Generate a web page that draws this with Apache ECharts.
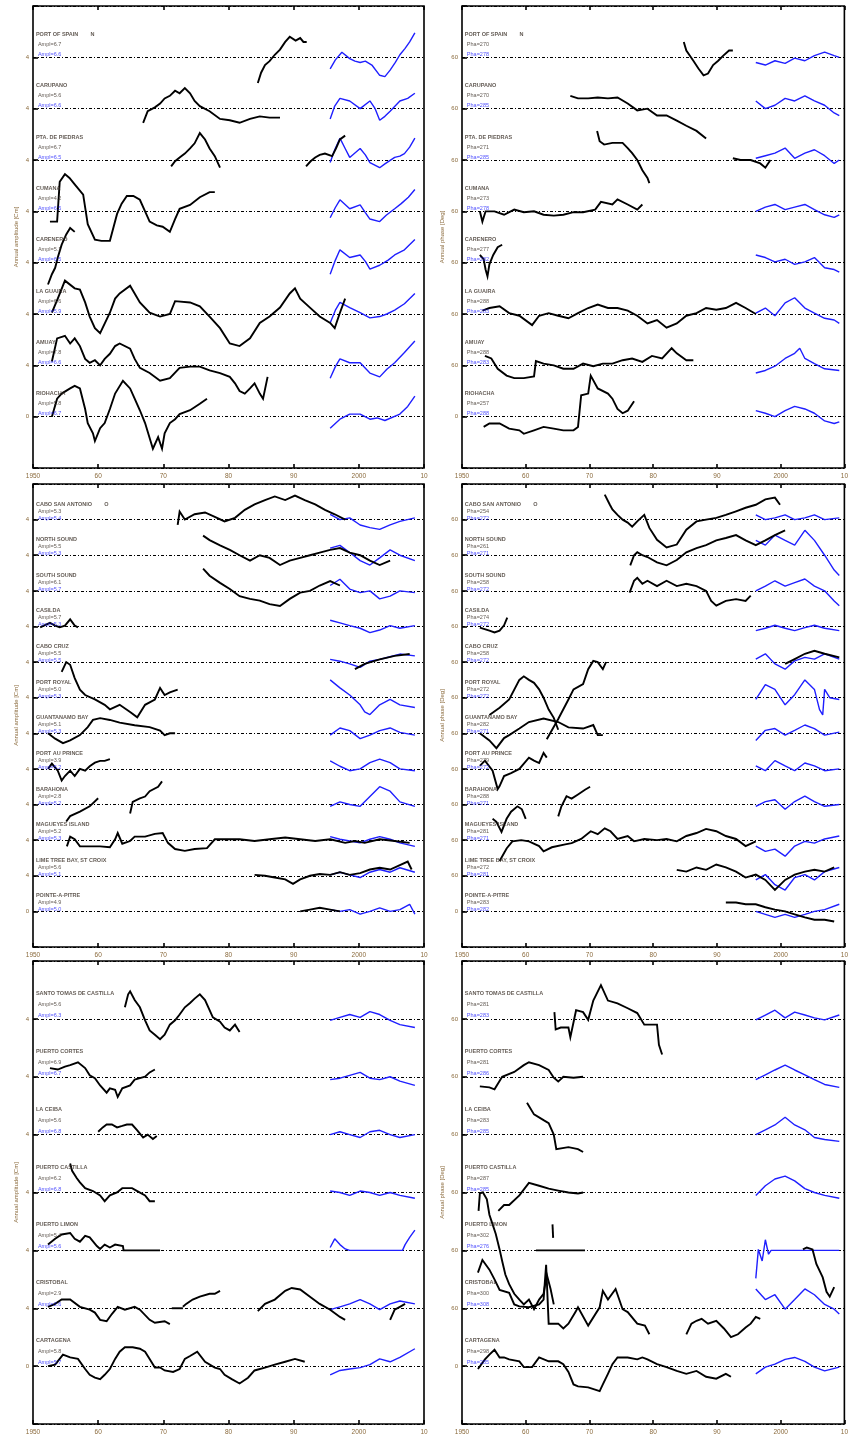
<!DOCTYPE html>
<html>
<head>
<meta charset="utf-8">
<script src="https://cdn.jsdelivr.net/npm/echarts/dist/echarts.min.js"></script>
<style>
  html, body { margin: 0; padding: 0; background: #ffffff; }
  #chart { width: 851px; height: 1440px; }
</style>
</head>
<body>
<div id="chart"></div>
<script>
// ---------- Station names and summary values (per panel row) ----------
const eastNames = ['PORT OF SPAIN', 'CARUPANO', 'PTA. DE PIEDRAS', 'CUMANA', 'CARENERO', 'LA GUAIRA', 'AMUAY', 'RIOHACHA'];
const eastAmpTG = ['6.7', '5.6', '6.7', '4.2', '5.1', '6.6', '7.8', '5.8'];
const eastAmpAlt = ['6.6', '6.6', '6.5', '6.5', '6.5', '5.9', '6.6', '6.7'];
const eastPhaTG = ['270', '270', '271', '273', '277', '288', '288', '257'];
const eastPhaAlt = ['278', '285', '285', '278', '282', '283', '283', '288'];

const centralNames = ['CABO SAN ANTONIO', 'NORTH SOUND', 'SOUTH SOUND', 'CASILDA', 'CABO CRUZ', 'PORT ROYAL', 'GUANTANAMO BAY', 'PORT AU PRINCE', 'BARAHONA', 'MAGUEYES ISLAND', 'LIME TREE BAY, ST CROIX', 'POINTE-A-PITRE'];
const centralAmpTG = ['5.3', '5.5', '6.1', '5.7', '5.5', '5.0', '5.1', '3.9', '2.8', '5.2', '5.6', '4.9'];
const centralAmpAlt = ['5.4', '5.3', '5.7', '5.3', '5.5', '5.3', '5.3', '5.2', '5.2', '5.3', '5.1', '5.0'];
const centralPhaTG = ['254', '261', '258', '274', '258', '272', '282', '279', '288', '281', '272', '283'];
const centralPhaAlt = ['272', '271', '272', '272', '272', '272', '271', '272', '271', '271', '281', '282'];

const westNames = ['SANTO TOMAS DE CASTILLA', 'PUERTO CORTES', 'LA CEIBA', 'PUERTO CASTILLA', 'PUERTO LIMON', 'CRISTOBAL', 'CARTAGENA'];
const westAmpTG = ['5.6', '6.9', '5.6', '6.2', '5.4', '2.9', '5.8'];
const westAmpAlt = ['6.3', '6.7', '6.8', '6.8', '5.6', '2.6', '5.7'];
const westPhaTG = ['281', '281', '283', '287', '302', '300', '298'];
const westPhaAlt = ['283', '286', '285', '285', '276', '308', '285'];

// ---------- Axis tick years ----------
const yearTicks = [1950, 1960, 1970, 1980, 1990, 2000, 2010];
const yearTickText = ['1950', '60', '70', '80', '90', '2000', '10'];

// ---------- Annual amplitude anomalies [cm]: tide gauge (TG) and altimetry (Alt) ----------
const ampPortOfSpainTG = [[1984.5,-2.0],[1985.0,-1.2],[1985.6,-0.6],[1986.3,-0.3],[1987.1,0.2],[1987.9,0.6],[1988.7,1.2],[1989.4,1.6],[1990.3,1.3],[1991.0,1.5],[1991.5,1.2],[1992.0,1.2]];
const ampPortOfSpainAlt = [[1995.6,-0.9],[1996.4,-0.2],[1997.4,0.4],[1998.6,-0.1],[1999.4,-0.3],[2000.2,-0.4],[2001.0,-0.3],[2002.0,-0.6],[2003.2,-1.4],[2004.0,-1.5],[2004.8,-1.0],[2005.6,-0.4],[2006.3,0.2],[2007.1,0.7],[2007.8,1.2],[2008.6,1.9]];
const ampCarupanoTG = [[1966.9,-1.1],[1967.6,-0.2],[1968.7,0.1],[1969.5,0.4],[1970.2,0.8],[1971.0,1.0],[1971.8,1.4],[1972.5,1.2],[1973.3,1.6],[1974.1,1.2],[1974.8,0.6],[1975.6,0.2],[1977.1,-0.2],[1978.7,-0.8],[1980.2,-0.9],[1981.7,-1.1],[1983.3,-0.8],[1984.8,-0.6],[1986.3,-0.7],[1987.9,-0.7]];
const ampCarupanoAlt = [[1995.6,-0.8],[1996.3,0.2],[1997.1,0.8],[1998.6,0.6],[2000.2,0.0],[2001.7,0.6],[2002.5,0.0],[2003.2,-0.9],[2004.0,-0.6],[2004.8,-0.2],[2006.3,0.6],[2007.5,0.8],[2008.6,1.2]];
const ampPiedrasTG = [[1971.2,-0.5],[1971.8,-0.1],[1972.5,0.2],[1973.3,0.5],[1974.1,0.9],[1974.8,1.3],[1975.6,2.1],[1976.4,1.6],[1977.1,0.9],[1977.9,0.3],[1978.7,-0.6],null,[1991.9,-0.5],[1992.6,-0.1],[1993.3,0.2],[1994.0,0.4],[1994.8,0.5],[1995.9,0.3],[1996.5,0.9],[1997.1,1.6],[1997.9,1.9]];
const ampPiedrasAlt = [[1995.6,-0.2],[1996.3,0.8],[1997.1,1.7],[1997.9,0.9],[1998.6,0.2],[2000.2,0.9],[2001.0,0.4],[2001.7,-0.2],[2003.2,-0.6],[2004.0,-0.3],[2005.5,0.2],[2006.3,0.3],[2007.0,0.5],[2007.8,1.0],[2008.6,1.7]];
const ampCumanaTG = [[1952.6,-0.8],[1953.7,-0.8],[1954.1,2.3],[1954.9,2.9],[1955.6,2.6],[1956.4,2.1],[1957.7,1.3],[1958.4,-1.0],[1959.5,-2.2],[1960.5,-2.3],[1961.8,-2.3],[1962.9,-0.2],[1963.6,0.6],[1964.4,1.2],[1965.4,1.2],[1966.4,0.9],[1967.2,0.0],[1967.9,-0.8],[1969.0,-1.1],[1969.9,-1.2],[1971.0,-1.6],[1971.8,-0.6],[1972.5,0.2],[1974.1,0.5],[1975.6,1.1],[1977.1,1.5],[1977.9,1.5]];
const ampCumanaAlt = [[1995.6,-0.5],[1996.4,0.3],[1997.1,0.9],[1998.6,0.2],[2000.2,0.5],[2001.0,-0.1],[2001.7,-0.6],[2003.2,-0.8],[2004.2,-0.3],[2005.5,0.2],[2006.5,0.6],[2007.6,1.1],[2008.6,1.7]];
const ampCareneroTG = [[1952.3,-1.7],[1952.9,-0.9],[1953.4,-0.4],[1953.8,0.4],[1954.4,1.4],[1955.1,2.2],[1955.7,2.7],[1956.4,2.4]];
const ampCareneroAlt = [[1995.6,-0.9],[1996.4,0.2],[1997.1,1.0],[1998.6,0.4],[2000.2,0.6],[2001.0,0.1],[2001.7,-0.5],[2003.2,-0.2],[2004.5,0.2],[2005.5,0.6],[2007.0,1.0],[2008.6,1.8]];
const ampLaGuairaTG = [[1952.9,0.1],[1953.8,1.2],[1954.9,2.6],[1956.4,2.0],[1957.2,1.9],[1958.0,0.9],[1958.7,-0.2],[1959.5,-1.1],[1960.3,-1.5],[1961.8,0.1],[1962.6,1.2],[1963.3,1.6],[1964.9,2.2],[1966.4,0.9],[1967.9,0.1],[1969.5,-0.2],[1971.0,0.0],[1971.8,1.0],[1974.1,0.9],[1975.6,0.6],[1977.1,-0.2],[1978.7,-1.1],[1980.2,-2.3],[1981.7,-2.5],[1983.3,-1.9],[1984.8,-0.7],[1986.3,-0.2],[1987.9,0.5],[1989.4,1.6],[1990.2,2.0],[1991.0,1.2],[1992.5,0.5],[1994.0,-0.2],[1995.6,-0.7],[1996.3,-1.1],[1997.1,0.1],[1997.9,1.2]];
const ampLaGuairaAlt = [[1995.6,-0.7],[1996.4,0.3],[1997.1,0.9],[1998.6,0.5],[2000.2,0.1],[2001.7,-0.3],[2003.2,-0.2],[2004.3,0.0],[2005.5,0.3],[2007.0,0.8],[2008.6,1.6]];
const ampAmuayTG = [[1952.9,0.3],[1953.7,2.1],[1954.9,2.3],[1955.7,1.7],[1956.4,2.1],[1957.2,1.5],[1958.0,0.5],[1958.7,0.2],[1959.5,0.4],[1960.3,0.0],[1961.0,0.5],[1961.8,0.9],[1962.6,1.5],[1963.3,1.7],[1964.9,1.3],[1965.6,0.5],[1966.4,-0.2],[1967.9,-0.6],[1969.5,-1.2],[1971.0,-1.0],[1972.5,-0.2],[1974.1,-0.1],[1975.6,-0.1],[1977.1,-0.4],[1978.7,-0.6],[1980.2,-0.9],[1981.0,-1.4],[1981.7,-2.0],[1982.5,-2.2],[1983.3,-1.8],[1984.0,-1.4],[1984.8,-2.2],[1985.3,-2.6],[1986.0,-0.9]];
const ampAmuayAlt = [[1995.6,-1.0],[1996.4,-0.1],[1997.1,0.5],[1998.6,0.2],[2000.2,0.2],[2001.7,-0.6],[2003.2,-0.9],[2004.3,-0.3],[2005.5,0.2],[2007.0,1.0],[2008.6,1.9]];
const ampRiohachaTG = [[1952.9,0.0],[1953.7,1.4],[1954.4,1.8],[1955.7,2.2],[1956.4,2.4],[1957.2,2.2],[1958.0,0.6],[1958.4,-0.5],[1959.2,-1.3],[1959.5,-1.9],[1960.3,-0.9],[1961.0,-0.5],[1961.8,0.6],[1962.6,1.8],[1963.8,2.8],[1964.9,2.2],[1965.6,1.4],[1966.4,0.5],[1967.2,-0.5],[1968.4,-2.5],[1969.2,-1.6],[1969.8,-2.5],[1970.2,-1.3],[1971.0,-0.5],[1971.8,-0.2],[1972.5,0.2],[1974.1,0.5],[1975.6,1.0],[1976.7,1.4]];
const ampRiohachaAlt = [[1995.6,-0.9],[1997.1,-0.2],[1998.6,0.2],[2000.2,0.2],[2001.7,-0.2],[2002.8,-0.1],[2004.0,-0.3],[2006.3,0.2],[2007.5,0.8],[2008.6,1.6]];

const ampSanAntonioTG = [[1972.2,-0.6],[1972.5,0.9],[1973.3,0.0],[1974.8,0.6],[1976.4,0.8],[1977.9,0.3],[1979.4,-0.2],[1981.0,0.2],[1982.5,1.1],[1984.0,1.7],[1985.6,2.2],[1987.1,2.6],[1988.7,2.2],[1990.2,2.7],[1991.7,2.2],[1993.3,1.7],[1994.8,1.1],[1996.3,0.6],[1997.9,0.0]];
const ampSanAntonioAlt = [[1995.6,0.6],[1997.1,0.0],[1998.6,0.2],[2000.2,-0.6],[2001.7,-0.9],[2003.2,-1.1],[2004.8,-0.6],[2006.3,-0.2],[2008.6,0.2]];
const ampNorthSoundTG = [[1976.1,2.2],[1977.1,1.7],[1978.7,1.1],[1980.2,0.6],[1981.7,0.0],[1983.3,-0.6],[1984.8,0.0],[1986.3,-0.3],[1987.9,-1.1],[1989.4,-0.6],[1991.0,-0.3],[1992.5,0.0],[1994.0,0.3],[1995.6,0.6],[1997.1,0.8],[1998.6,0.3],[2000.2,0.0],[2001.7,-0.6],[2003.2,-1.1],[2004.8,-0.6]];
const ampNorthSoundAlt = [[1995.6,0.8],[1997.1,1.1],[1998.6,0.3],[2000.2,-0.6],[2001.7,-1.1],[2003.2,-0.3],[2004.8,0.6],[2006.3,0.0],[2008.6,-0.6]];
const ampSouthSoundTG = [[1976.1,2.5],[1977.1,1.7],[1978.7,0.9],[1980.2,0.2],[1981.7,-0.6],[1983.3,-0.9],[1984.8,-1.1],[1986.3,-1.5],[1987.9,-1.7],[1989.4,-0.9],[1991.0,-0.2],[1992.5,0.0],[1994.0,0.6],[1995.6,1.1],[1997.1,0.6]];
const ampSouthSoundAlt = [[1995.6,0.6],[1997.1,1.3],[1998.6,0.2],[2000.2,-0.2],[2001.7,0.0],[2003.2,-0.9],[2004.8,-0.6],[2006.3,0.0],[2008.6,-0.2]];
const ampCasildaTG = [[1951.1,-0.1],[1952.6,0.4],[1953.4,0.1],[1954.1,-0.1],[1954.9,0.1],[1955.7,0.8],[1956.4,0.1],[1956.9,-0.1]];
const ampCasildaAlt = [[1995.6,0.7],[1997.1,0.4],[1998.6,0.1],[2000.2,-0.2],[2001.7,-0.7],[2003.2,-0.4],[2004.8,0.1],[2006.3,-0.2],[2008.6,0.1]];
const ampCaboCruzTG = [[1999.4,-0.8],[2000.9,-0.2],[2003.2,0.3],[2005.5,0.7],[2007.8,0.9]];
const ampCaboCruzAlt = [[1995.6,0.3],[1997.1,0.1],[1998.6,-0.2],[2000.2,-0.6],[2001.7,0.1],[2003.2,0.3],[2004.8,0.6],[2006.3,0.9],[2008.6,0.7]];
const ampPortRoyalTG = [[1954.4,2.9],[1955.1,4.0],[1955.7,3.7],[1956.4,2.2],[1957.2,0.9],[1958.0,0.3],[1959.5,-0.2],[1961.0,-0.8],[1961.8,-1.3],[1963.3,-0.8],[1964.9,-1.6],[1966.0,-2.2],[1967.2,-0.8],[1968.7,-0.2],[1969.5,1.1],[1970.2,0.3],[1971.0,0.6],[1972.2,0.9]];
const ampPortRoyalAlt = [[1995.6,2.0],[1997.1,1.1],[1998.6,0.3],[2000.2,-0.8],[2000.9,-1.6],[2001.7,-1.9],[2003.2,-0.8],[2004.8,-0.2],[2006.3,-0.8],[2008.6,-1.1]];
const ampGuantanamoTG = [[1952.3,0.0],[1953.4,-0.6],[1954.6,-1.1],[1955.7,-0.8],[1957.2,-0.2],[1958.4,0.7],[1959.2,1.5],[1960.3,1.7],[1961.8,1.5],[1963.3,1.2],[1965.6,0.9],[1967.9,0.7],[1969.5,0.3],[1970.2,-0.2],[1971.0,0.0],[1971.8,0.0]];
const ampGuantanamoAlt = [[1995.6,-0.2],[1997.1,0.6],[1998.6,0.3],[2000.2,-0.6],[2001.7,-0.2],[2003.2,0.3],[2004.8,0.6],[2006.3,0.1],[2008.6,-0.2]];
const ampPortAuPrinceTG = [[1952.3,0.0],[1952.9,0.6],[1953.8,-0.2],[1954.4,-1.3],[1954.9,-0.8],[1955.7,-0.2],[1956.4,-0.8],[1957.2,0.0],[1958.0,-0.2],[1958.7,0.3],[1959.5,0.7],[1960.3,0.9],[1961.0,0.9],[1961.8,1.1]];
const ampPortAuPrinceAlt = [[1995.6,0.9],[1997.1,0.3],[1998.6,-0.2],[2000.2,0.0],[2001.7,0.7],[2003.2,1.1],[2004.8,0.7],[2006.3,0.0],[2008.6,-0.2]];
const ampBarahonaTG = [[1955.1,-1.9],[1955.7,-1.3],[1957.2,-0.8],[1958.7,-0.2],[1960.0,0.7],null,[1964.9,-1.0],[1965.3,0.3],[1966.4,0.7],[1967.2,0.9],[1967.9,1.5],[1969.2,2.0],[1969.8,2.6]];
const ampBarahonaAlt = [[1995.6,-0.2],[1997.1,0.3],[1998.6,0.0],[2000.2,-0.2],[2001.7,0.9],[2003.2,2.0],[2004.8,1.5],[2006.3,0.3],[2008.6,-0.2]];
const ampMagueyesTG = [[1955.2,-0.7],[1955.7,0.4],[1956.4,0.1],[1957.2,-0.7],[1958.7,-0.7],[1960.3,-0.7],[1961.8,-0.8],[1962.6,0.1],[1963.0,0.8],[1963.7,-0.4],[1964.9,-0.1],[1965.6,0.4],[1967.2,0.4],[1968.7,0.7],[1969.9,0.8],[1970.7,-0.3],[1971.8,-1.0],[1973.3,-1.2],[1974.8,-1.0],[1976.7,-0.9],[1977.9,0.1],[1979.4,0.1],[1981.7,0.1],[1984.0,-0.1],[1986.3,0.1],[1988.7,0.3],[1991.0,0.1],[1993.3,-0.1],[1995.6,0.1],[1997.9,-0.3],[1999.4,-0.1],[2000.9,-0.3],[2003.2,0.1],[2005.5,-0.1],[2007.8,-0.3]];
const ampMagueyesAlt = [[1995.6,0.4],[1997.1,0.1],[1998.6,-0.1],[2000.2,-0.3],[2001.7,0.1],[2003.2,0.4],[2004.8,0.1],[2006.3,-0.3],[2008.6,-0.7]];
const ampLimeTreeTG = [[1984.0,0.1],[1985.6,0.0],[1987.1,-0.2],[1988.7,-0.4],[1989.9,-0.9],[1991.0,-0.4],[1992.5,0.0],[1994.0,0.2],[1995.6,0.1],[1997.1,0.4],[1998.6,0.1],[2000.2,0.3],[2001.7,0.7],[2003.2,0.9],[2004.8,0.7],[2006.3,1.2],[2007.5,1.6],[2008.1,0.7]];
const ampLimeTreeAlt = [[1995.6,0.1],[1997.1,0.4],[1998.6,0.1],[2000.2,-0.2],[2001.7,0.4],[2003.2,0.7],[2004.8,0.4],[2006.3,0.9],[2008.6,0.4]];
const ampPointeTG = [[1991.0,0.0],[1992.5,0.2],[1994.0,0.4],[1995.6,0.2],[1997.1,0.0]];
const ampPointeAlt = [[1995.6,0.2],[1997.1,0.0],[1998.6,0.2],[2000.2,-0.3],[2001.7,0.0],[2003.2,0.4],[2004.8,0.0],[2006.3,0.2],[2007.8,0.8],[2008.6,-0.3]];

const ampSantoTomasTG = [[1964.1,0.8],[1964.6,1.7],[1964.9,1.9],[1965.6,1.3],[1966.4,0.8],[1967.2,-0.1],[1967.9,-0.8],[1968.7,-1.1],[1969.5,-1.4],[1970.2,-1.1],[1971.0,-0.4],[1971.8,-0.1],[1972.5,0.3],[1973.3,0.8],[1974.1,1.1],[1974.8,1.4],[1975.6,1.7],[1976.4,1.3],[1977.6,0.1],[1978.7,-0.2],[1979.4,-0.6],[1980.2,-0.8],[1981.0,-0.4],[1981.7,-0.9]];
const ampSantoTomasAlt = [[1995.6,-0.1],[1997.1,0.1],[1998.6,0.3],[2000.2,0.1],[2001.7,0.5],[2003.2,0.3],[2004.8,-0.1],[2006.3,-0.4],[2008.6,-0.6]];
const ampCortesTG = [[1952.6,0.6],[1953.8,0.5],[1954.9,0.7],[1955.7,0.8],[1956.9,1.0],[1958.0,0.6],[1958.7,0.1],[1959.5,-0.1],[1960.3,-0.6],[1961.3,-1.1],[1961.8,-0.8],[1962.6,-0.9],[1963.0,-1.4],[1963.7,-0.8],[1964.9,-0.6],[1965.6,-0.2],[1966.4,-0.1],[1967.2,0.0],[1967.9,0.3],[1968.7,0.5]];
const ampCortesAlt = [[1995.6,-0.2],[1997.1,-0.1],[1998.6,0.1],[2000.2,0.3],[2001.7,-0.1],[2003.2,-0.2],[2004.8,0.0],[2006.3,-0.3],[2008.6,-0.6]];
const ampCeibaTG = [[1960.0,0.2],[1960.7,0.5],[1961.3,0.7],[1962.1,0.7],[1962.9,0.5],[1963.7,0.6],[1964.4,0.7],[1965.2,0.7],[1966.0,0.3],[1966.9,-0.2],[1967.6,0.0],[1968.4,-0.3],[1969.0,-0.1]];
const ampCeibaAlt = [[1995.6,0.0],[1997.1,0.2],[1998.6,0.0],[2000.2,-0.2],[2001.7,0.2],[2003.2,0.3],[2004.8,0.0],[2006.3,-0.2],[2008.6,0.0]];
const ampCastillaTG = [[1955.7,2.0],[1956.0,1.5],[1956.7,1.0],[1957.2,0.7],[1958.0,0.3],[1959.2,0.1],[1960.3,-0.2],[1961.0,-0.6],[1961.8,-0.2],[1962.9,0.0],[1963.7,0.3],[1965.2,0.3],[1966.0,0.1],[1967.2,-0.2],[1967.9,-0.6],[1968.7,-0.6]];
const ampCastillaAlt = [[1995.6,0.1],[1997.1,0.0],[1998.6,-0.2],[2000.2,0.1],[2001.7,0.0],[2003.2,-0.2],[2004.8,0.0],[2006.3,-0.2],[2008.6,-0.4]];
const ampLimonTG = [[1952.3,0.4],[1953.4,0.8],[1954.4,1.1],[1955.7,1.2],[1956.4,0.8],[1957.2,0.6],[1958.0,1.0],[1958.7,0.9],[1959.8,0.3],[1960.3,0.1],[1961.0,0.4],[1961.8,0.2],[1962.6,0.4],[1963.8,0.3],[1963.9,0.0],[1969.5,0.0]];
const ampLimonAlt = [[1995.6,0.2],[1996.3,0.8],[1997.1,0.4],[1997.9,0.1],[1998.6,0.0],[2006.7,0.0],[2007.1,0.4],[2007.8,0.9],[2008.6,1.4]];
const ampCristobalTG = [[1952.3,0.1],[1953.4,0.3],[1954.4,0.6],[1955.7,0.6],[1957.2,0.1],[1958.7,-0.1],[1959.5,-0.3],[1960.3,-0.8],[1961.3,-0.9],[1962.1,-0.4],[1963.0,0.1],[1964.1,-0.1],[1965.6,0.1],[1966.4,-0.1],[1967.9,-0.8],[1968.7,-1.0],[1970.2,-0.9],[1971.0,-1.1],null,[1971.3,0.0],[1973.0,0.0],null,[1973.0,0.1],[1973.5,0.3],[1974.5,0.6],[1975.6,0.8],[1977.1,1.0],[1977.9,1.0],[1978.7,1.2],null,[1984.5,-0.2],[1985.6,0.3],[1987.1,0.6],[1988.7,1.2],[1989.7,1.4],[1991.0,1.3],[1992.5,0.8],[1994.0,0.3],[1995.6,-0.1],[1997.1,-0.6],[1997.9,-0.8],null,[2004.8,-0.8],[2005.5,-0.1],[2006.3,0.1],[2007.1,0.3]];
const ampCristobalAlt = [[1995.6,-0.1],[1997.1,0.1],[1998.6,0.3],[2000.2,0.6],[2001.7,0.3],[2003.2,-0.1],[2004.8,0.3],[2006.3,0.5],[2008.6,0.3]];
const ampCartagenaTG = [[1952.3,0.0],[1953.4,0.1],[1954.6,0.8],[1955.7,0.6],[1956.9,0.5],[1958.0,-0.2],[1958.7,-0.6],[1959.5,-0.8],[1960.3,-0.9],[1961.0,-0.6],[1961.8,-0.2],[1962.6,0.5],[1963.3,1.0],[1964.1,1.3],[1965.3,1.3],[1966.4,1.2],[1967.2,1.0],[1967.9,0.5],[1968.7,-0.1],[1969.5,-0.1],[1970.2,-0.3],[1971.5,-0.4],[1972.5,-0.2],[1973.3,0.5],[1974.1,0.7],[1975.2,1.0],[1976.4,0.3],[1977.9,-0.1],[1978.7,-0.2],[1979.4,-0.6],[1980.5,-0.9],[1981.7,-1.2],[1983.0,-0.8],[1984.0,-0.3],[1985.6,-0.1],[1987.1,0.1],[1988.7,0.3],[1990.2,0.5],[1991.7,0.3]];
const ampCartagenaAlt = [[1995.6,-0.6],[1997.1,-0.3],[1998.6,-0.2],[2000.2,-0.1],[2001.7,0.1],[2003.2,0.5],[2004.8,0.3],[2006.3,0.6],[2008.6,1.2]];

// ---------- Annual phase anomalies [deg] ----------
const phaPortOfSpainTG = [[1984.8,18],[1985.2,8],[1986.3,-4],[1987.1,-13],[1987.9,-21],[1988.6,-19],[1989.4,-9],[1990.2,-4],[1991.0,2],[1991.9,8],[1992.5,8]];
const phaPortOfSpainAlt = [[1996.1,-6],[1997.6,-9],[1999.1,-4],[2000.7,-7],[2002.2,-1],[2003.8,-4],[2005.3,2],[2006.9,6],[2008.4,2],[2009.2,0]];
const phaCarupanoTG = [[1967.0,15],[1968.2,12],[1969.8,12],[1971.3,13],[1972.9,12],[1974.4,13],[1976.0,6],[1977.5,-2],[1979.1,0],[1980.6,-8],[1982.1,-8],[1983.7,-14],[1985.2,-20],[1986.8,-26],[1988.3,-35]];
const phaCarupanoAlt = [[1996.1,9],[1997.6,0],[1999.1,4],[2000.7,12],[2002.2,9],[2003.8,15],[2005.3,9],[2006.9,4],[2008.4,-5],[2009.2,-8]];
const phaPiedrasTG = [[1971.2,34],[1971.6,22],[1972.3,18],[1973.6,20],[1975.2,20],[1976.0,14],[1976.7,8],[1977.5,0],[1978.3,-12],[1979.1,-21],[1979.4,-27],null,[1992.5,2],[1993.7,0],[1995.3,0],[1996.8,-4],[1997.6,-9],[1998.4,0]];
const phaPiedrasAlt = [[1996.1,2],[1997.6,5],[1999.1,8],[2000.7,14],[2002.2,2],[2003.8,8],[2005.3,12],[2006.9,5],[2008.4,-4],[2009.2,0]];
const phaCumanaTG = [[1952.8,0],[1953.2,-12],[1953.7,0],[1955.1,0],[1956.6,-4],[1958.2,2],[1959.7,-1],[1961.3,0],[1962.8,-4],[1964.4,-5],[1965.9,-4],[1967.5,-1],[1969.0,-1],[1970.9,2],[1971.8,11],[1973.6,8],[1974.4,14],[1976.0,8],[1977.5,2],[1978.3,8]];
const phaCumanaAlt = [[1996.1,0],[1997.6,5],[1999.1,8],[2000.7,2],[2002.2,5],[2003.8,8],[2005.3,2],[2006.9,-4],[2008.4,-7],[2009.2,-4]];
const phaCareneroTG = [[1952.8,9],[1953.4,4],[1953.7,-8],[1954.0,-16],[1954.3,-2],[1954.9,9],[1955.6,18],[1956.3,21]];
const phaCareneroAlt = [[1996.1,9],[1997.6,6],[1999.1,1],[2000.7,4],[2002.2,-2],[2003.8,1],[2005.3,6],[2006.9,-6],[2008.4,-8],[2009.2,-11]];
const phaLaGuairaTG = [[1953.2,4],[1954.3,7],[1955.9,9],[1957.4,1],[1959.0,-2],[1961.0,-13],[1962.1,-2],[1963.6,1],[1965.1,-2],[1966.7,-5],[1968.2,1],[1969.8,7],[1971.3,11],[1972.9,7],[1974.4,7],[1976.0,4],[1977.5,-2],[1979.1,-11],[1980.6,-7],[1982.1,-16],[1983.7,-11],[1985.2,-2],[1986.8,1],[1988.3,7],[1989.9,5],[1991.4,7],[1993.0,13],[1994.5,7],[1996.1,0]];
const phaLaGuairaAlt = [[1996.1,1],[1997.6,7],[1999.1,-2],[2000.7,13],[2002.2,19],[2003.8,7],[2005.3,1],[2006.9,-5],[2008.4,-7],[2009.2,-11]];
const phaAmuayTG = [[1953.6,11],[1954.6,8],[1955.6,-4],[1957.0,-12],[1958.2,-15],[1959.7,-15],[1961.3,-13],[1961.6,5],[1962.8,2],[1964.4,0],[1965.9,-4],[1967.5,-4],[1969.0,2],[1970.6,-1],[1972.1,2],[1973.6,2],[1975.2,6],[1976.7,8],[1978.3,4],[1979.8,11],[1981.4,8],[1982.9,20],[1983.7,14],[1985.2,6],[1986.3,6]];
const phaAmuayAlt = [[1996.1,-9],[1997.6,-6],[1999.1,-1],[2000.7,8],[2002.2,14],[2003.0,20],[2003.8,8],[2005.3,2],[2006.9,-4],[2009.2,-6]];
const phaRiohachaTG = [[1953.4,-12],[1954.3,-8],[1955.9,-8],[1957.4,-14],[1959.0,-16],[1959.7,-20],[1961.3,-16],[1962.8,-12],[1964.4,-14],[1965.9,-16],[1967.5,-16],[1968.2,-12],[1968.7,25],[1969.8,27],[1970.2,48],[1971.3,33],[1972.9,27],[1973.6,21],[1974.4,9],[1975.2,4],[1976.0,7],[1977.0,18]];
const phaRiohachaAlt = [[1996.1,7],[1997.6,4],[1999.1,0],[2000.7,7],[2002.2,12],[2003.8,9],[2005.3,4],[2006.9,-5],[2008.4,-8],[2009.2,-6]];

const phaSanAntonioTG = [[1972.4,42],[1973.2,25],[1973.6,17],[1974.4,8],[1975.2,0],[1976.0,-5],[1976.7,-12],[1977.5,-3],[1978.6,8],[1979.4,-14],[1980.6,-34],[1982.1,-47],[1983.7,-42],[1985.2,-17],[1986.8,-3],[1988.3,0],[1989.9,3],[1991.4,8],[1993.0,14],[1994.5,20],[1996.1,25],[1997.6,34],[1999.1,37],[1999.9,25]];
const phaSanAntonioAlt = [[1996.1,8],[1997.6,0],[1999.1,3],[2000.7,8],[2002.2,0],[2003.8,3],[2005.3,8],[2006.9,0],[2009.2,3]];
const phaNorthSoundTG = [[1976.4,-17],[1977.0,0],[1977.5,5],[1978.3,0],[1979.1,-3],[1980.6,-12],[1982.1,-17],[1983.7,-8],[1985.2,5],[1986.8,12],[1988.3,17],[1989.9,25],[1991.4,29],[1993.0,34],[1994.5,25],[1996.1,17],[1997.6,25],[1999.1,34],[2000.7,42]];
const phaNorthSoundAlt = [[1996.1,25],[1997.6,17],[1999.1,34],[2000.7,25],[2002.2,17],[2003.8,42],[2005.3,25],[2006.9,0],[2008.4,-25],[2009.2,-34]];
const phaSouthSoundTG = [[1976.3,-3],[1977.0,17],[1977.5,22],[1978.3,12],[1979.1,17],[1980.6,8],[1982.1,17],[1983.7,8],[1985.2,12],[1986.8,8],[1988.3,0],[1989.1,-17],[1989.9,-25],[1991.4,-17],[1993.0,-14],[1994.5,-17],[1995.3,-8]];
const phaSouthSoundAlt = [[1996.1,0],[1997.6,8],[1999.1,17],[2000.7,8],[2002.2,14],[2003.8,20],[2005.3,8],[2006.9,0],[2008.4,-17],[2009.2,-25]];
const phaCasildaTG = [[1952.8,-2],[1954.3,-7],[1955.1,-10],[1955.9,-7],[1956.6,2],[1957.1,15]];
const phaCasildaAlt = [[1996.1,-7],[1997.6,-3],[1999.1,2],[2000.7,-3],[2002.2,-7],[2003.8,-2],[2005.3,2],[2006.9,-3],[2009.2,-7]];
const phaCaboCruzTG = [[1963.3,-130],[1965.1,-96],[1966.7,-63],[1967.5,-46],[1969.0,-37],[1969.8,-12],[1970.6,2],[1971.3,0],[1972.1,-12],[1972.6,0],null,[2000.7,-3],[2002.2,5],[2003.8,14],[2005.3,19],[2006.9,14],[2009.2,8]];
const phaCaboCruzAlt = [[1996.1,5],[1997.6,14],[1999.1,-3],[2000.7,-12],[2002.2,2],[2003.8,8],[2005.3,5],[2006.9,14],[2009.2,5]];
const phaPortRoyalTG = [[1954.3,-29],[1955.9,-17],[1957.4,-3],[1959.0,30],[1959.7,36],[1960.5,30],[1961.3,25],[1962.1,14],[1962.8,0],[1963.6,-20],[1964.4,-34],[1965.1,-54]];
const phaPortRoyalAlt = [[1996.1,-3],[1997.6,22],[1999.1,14],[2000.7,-12],[2002.2,5],[2003.8,30],[2005.3,14],[2006.1,-20],[2006.6,-29],[2006.9,14],[2007.7,0],[2009.2,-3]];
const phaGuantanamoTG = [[1952.8,0],[1954.3,-12],[1955.4,-25],[1956.6,-8],[1957.4,-3],[1959.0,8],[1960.5,19],[1962.8,25],[1965.1,19],[1966.7,10],[1969.0,8],[1970.6,14],[1971.3,-3],[1972.1,-3]];
const phaGuantanamoAlt = [[1996.1,-12],[1997.6,5],[1999.1,8],[2000.7,-3],[2002.2,5],[2003.8,14],[2005.3,8],[2006.9,-3],[2009.2,2]];
const phaPortAuPrinceTG = [[1952.8,5],[1953.6,14],[1954.8,-3],[1955.6,-34],[1955.9,-29],[1956.6,-12],[1957.7,-7],[1959.0,0],[1960.5,19],[1961.3,14],[1962.1,10],[1962.8,27],[1963.3,19]];
const phaPortAuPrinceAlt = [[1996.1,5],[1997.6,-3],[1999.1,14],[2000.7,5],[2002.2,-3],[2003.8,10],[2005.3,5],[2006.9,-3],[2009.2,0]];
const phaBarahonaTG = [[1954.8,-24],[1955.4,-29],[1956.2,-46],[1957.0,-24],[1957.7,-12],[1958.7,-3],[1959.4,-8],[1960.0,-24],null,[1965.1,-20],[1965.6,-3],[1966.4,14],[1967.2,10],[1968.2,17],[1969.3,25],[1970.1,30]];
const phaBarahonaAlt = [[1996.1,-3],[1997.6,5],[1999.1,8],[2000.7,-8],[2002.2,5],[2003.8,14],[2005.3,5],[2006.9,-3],[2009.2,0]];
const phaMagueyesTG = [[1955.9,-35],[1957.0,-14],[1957.9,-2],[1959.3,0],[1960.5,-2],[1962.1,-10],[1962.8,-19],[1964.1,-12],[1966.2,-7],[1967.2,-5],[1968.7,2],[1970.2,15],[1971.3,10],[1972.4,20],[1973.3,15],[1974.4,2],[1976.0,7],[1977.0,-2],[1978.6,2],[1980.6,0],[1982.1,2],[1983.7,-2],[1985.2,7],[1986.8,12],[1988.3,19],[1989.9,15],[1991.4,7],[1993.0,2],[1994.5,-10],[1996.1,-2]];
const phaMagueyesAlt = [[1996.1,-10],[1997.6,-19],[1999.1,-15],[2000.7,-27],[2002.2,-10],[2003.8,-2],[2005.3,-5],[2006.9,2],[2009.2,7]];
const phaLimeTreeTG = [[1983.7,10],[1985.2,7],[1986.8,14],[1988.3,10],[1989.9,19],[1991.4,14],[1993.0,7],[1994.5,-3],[1996.1,2],[1997.6,-7],[1999.1,-24],[2000.7,-7],[2002.2,2],[2003.8,7],[2005.3,10],[2006.9,7],[2008.4,14]];
const phaLimeTreeAlt = [[1996.1,-7],[1997.6,2],[1999.1,-15],[2000.7,-24],[2002.2,-3],[2003.8,2],[2005.3,-7],[2006.9,7],[2009.2,14]];
const phaPointeTG = [[1991.4,15],[1993.0,15],[1994.5,12],[1996.1,12],[1997.6,7],[1999.1,3],[2000.7,0],[2002.2,-5],[2003.8,-10],[2005.3,-14],[2006.9,-14],[2008.4,-17]];
const phaPointeAlt = [[1996.1,0],[1997.6,-5],[1999.1,-10],[2000.7,-5],[2002.2,-10],[2003.8,-5],[2005.3,0],[2006.9,3],[2009.2,12]];

const phaSantoTomasTG = [[1964.5,7],[1964.7,-11],[1965.5,-9],[1966.7,-9],[1967.0,-19],[1967.9,9],[1969.0,7],[1969.8,-1],[1970.6,19],[1971.8,35],[1972.9,19],[1974.4,16],[1976.0,11],[1977.5,6],[1978.6,-6],[1979.8,-6],[1980.6,-6],[1980.9,-27],[1981.4,-37]];
const phaSantoTomasAlt = [[1996.1,-1],[1997.6,4],[1999.1,9],[2000.7,1],[2002.2,7],[2003.8,4],[2005.3,1],[2006.9,-1],[2009.2,4]];
const phaCortesTG = [[1952.8,-10],[1954.3,-11],[1955.1,-13],[1956.3,0],[1958.2,5],[1959.7,12],[1960.5,15],[1962.1,12],[1963.6,7],[1964.4,-1],[1965.1,-5],[1965.9,0],[1967.5,-1],[1969.0,0]];
const phaCortesAlt = [[1996.1,-3],[1997.6,2],[1999.1,7],[2000.7,12],[2002.2,7],[2003.8,2],[2005.3,-3],[2006.9,-8],[2009.2,-11]];
const phaCeibaTG = [[1960.2,33],[1961.3,21],[1962.8,15],[1963.6,12],[1964.4,0],[1964.8,-15],[1966.7,-13],[1968.2,-15],[1969.0,-18]];
const phaCeibaAlt = [[1996.1,0],[1997.6,5],[1999.1,10],[2000.7,18],[2002.2,10],[2003.8,5],[2005.3,-3],[2006.9,-5],[2009.2,-7]];
const phaCastillaTG = [[1952.6,-19],[1952.8,-1],[1953.2,0],null,[1955.7,-19],[1956.6,-13],[1957.4,-13],[1959.0,-3],[1960.5,10],[1962.1,7],[1963.6,4],[1965.1,2],[1966.7,0],[1968.2,-1],[1969.0,0]];
const phaCastillaAlt = [[1996.1,-3],[1997.6,7],[1999.1,14],[2000.7,17],[2002.2,12],[2003.8,4],[2005.3,0],[2006.9,-3],[2009.2,-6]];
const phaLimonTG = [[1953.2,61],[1953.9,53],[1954.3,37],[1954.8,27],[1955.3,17],[1955.9,1],[1956.3,-11],[1956.8,-25],[1957.4,-35],[1958.2,-45],[1959.0,-51],[1959.7,-56],[1960.5,-51],[1961.3,-61],[1962.1,-51],[1962.8,-45],[1963.3,-25],[1963.9,-40],[1964.4,-56],null,[1964.2,27],[1964.3,13],null,[1961.6,0],[1969.3,0],null,[2003.5,1],[2004.1,3],[2005.0,1],[2005.6,-14],[2006.6,-28],[2007.2,-43],[2007.7,-48],[2008.4,-38]];
const phaLimonAlt = [[1996.1,-29],[1996.5,1],[1997.1,-11],[1997.6,11],[1998.1,-4],[1998.5,0],[2009.2,0]];
const phaCristobalTG = [[1952.5,37],[1953.2,50],[1954.3,40],[1955.1,30],[1955.9,19],[1957.4,16],[1958.2,4],[1959.0,2],[1960.5,1],[1962.1,4],[1962.8,9],[1963.2,45],[1963.6,-16],[1965.1,-16],[1965.9,-21],[1966.7,-16],[1967.8,-4],[1968.2,1],[1969.8,-18],[1971.6,1],[1972.1,18],[1972.9,9],[1974.1,20],[1975.2,-1],[1976.0,-4],[1977.5,-16],[1978.7,-18],[1979.4,-27],null,[1985.2,-27],[1986.0,-16],[1986.8,-13],[1987.6,-11],[1988.6,-16],[1989.9,-13],[1991.1,-21],[1992.2,-30],[1993.3,-27],[1994.5,-20],[1995.3,-16],[1996.1,-9],[1996.8,-11]];
const phaCristobalAlt = [[1996.1,20],[1997.6,9],[1999.1,14],[2000.7,-1],[2002.2,9],[2003.8,20],[2005.3,14],[2006.9,4],[2008.4,-1],[2009.2,-6]];
const phaCartagenaTG = [[1952.5,-3],[1953.6,7],[1954.3,12],[1955.1,17],[1955.9,9],[1956.6,9],[1957.4,7],[1959.0,5],[1959.7,-1],[1961.0,-1],[1962.1,9],[1963.6,5],[1965.1,5],[1965.9,2],[1966.7,-6],[1967.5,-19],[1968.2,-21],[1969.8,-22],[1971.6,-26],[1972.1,-19],[1972.9,-8],[1973.6,2],[1974.4,9],[1976.0,9],[1977.5,7],[1978.3,9],[1979.1,7],[1980.6,2],[1982.1,-1],[1983.7,-5],[1985.2,-8],[1986.8,-5],[1988.3,-11],[1989.9,-13],[1991.4,-8],[1992.2,-11]];
const phaCartagenaAlt = [[1996.1,-8],[1997.6,-1],[1999.1,2],[2000.7,7],[2002.2,9],[2003.8,5],[2005.3,-1],[2006.9,-5],[2009.2,-1]];

// ---------- Panel layout ----------
const TEXT_DARK = '#3b3128';
const TEXT_AXIS = '#8a6a3c';
const ALT_BLUE = '#1f1fff';
const FONT = 'Liberation Sans, Arial, sans-serif';

const panels = [
  { left: 33,  top: 6,   width: 391, height: 462, spacing: 4,  tickText: '4',  yName: 'Annual amplitude [Cm]', prefix: 'Ampl=', flag: 'N', lh: 10,
    names: eastNames, tgText: eastAmpTG, altText: eastAmpAlt,
    tg: [ampPortOfSpainTG, ampCarupanoTG, ampPiedrasTG, ampCumanaTG, ampCareneroTG, ampLaGuairaTG, ampAmuayTG, ampRiohachaTG],
    alt: [ampPortOfSpainAlt, ampCarupanoAlt, ampPiedrasAlt, ampCumanaAlt, ampCareneroAlt, ampLaGuairaAlt, ampAmuayAlt, ampRiohachaAlt] },
  { left: 462, top: 6,   width: 388, height: 462, spacing: 60, tickText: '60', yName: 'Annual phase [Deg]', prefix: 'Pha=', flag: 'N', lh: 10,
    names: eastNames, tgText: eastPhaTG, altText: eastPhaAlt,
    tg: [phaPortOfSpainTG, phaCarupanoTG, phaPiedrasTG, phaCumanaTG, phaCareneroTG, phaLaGuairaTG, phaAmuayTG, phaRiohachaTG],
    alt: [phaPortOfSpainAlt, phaCarupanoAlt, phaPiedrasAlt, phaCumanaAlt, phaCareneroAlt, phaLaGuairaAlt, phaAmuayAlt, phaRiohachaAlt] },
  { left: 33,  top: 484, width: 391, height: 463, spacing: 4,  tickText: '4',  yName: 'Annual amplitude [Cm]', prefix: 'Ampl=', flag: 'O', lh: 7,
    names: centralNames, tgText: centralAmpTG, altText: centralAmpAlt,
    tg: [ampSanAntonioTG, ampNorthSoundTG, ampSouthSoundTG, ampCasildaTG, ampCaboCruzTG, ampPortRoyalTG, ampGuantanamoTG, ampPortAuPrinceTG, ampBarahonaTG, ampMagueyesTG, ampLimeTreeTG, ampPointeTG],
    alt: [ampSanAntonioAlt, ampNorthSoundAlt, ampSouthSoundAlt, ampCasildaAlt, ampCaboCruzAlt, ampPortRoyalAlt, ampGuantanamoAlt, ampPortAuPrinceAlt, ampBarahonaAlt, ampMagueyesAlt, ampLimeTreeAlt, ampPointeAlt] },
  { left: 462, top: 484, width: 388, height: 463, spacing: 60, tickText: '60', yName: 'Annual phase [Deg]', prefix: 'Pha=', flag: 'O', lh: 7,
    names: centralNames, tgText: centralPhaTG, altText: centralPhaAlt,
    tg: [phaSanAntonioTG, phaNorthSoundTG, phaSouthSoundTG, phaCasildaTG, phaCaboCruzTG, phaPortRoyalTG, phaGuantanamoTG, phaPortAuPrinceTG, phaBarahonaTG, phaMagueyesTG, phaLimeTreeTG, phaPointeTG],
    alt: [phaSanAntonioAlt, phaNorthSoundAlt, phaSouthSoundAlt, phaCasildaAlt, phaCaboCruzAlt, phaPortRoyalAlt, phaGuantanamoAlt, phaPortAuPrinceAlt, phaBarahonaAlt, phaMagueyesAlt, phaLimeTreeAlt, phaPointeAlt] },
  { left: 33,  top: 961, width: 391, height: 463, spacing: 4,  tickText: '4',  yName: 'Annual amplitude [Cm]', prefix: 'Ampl=', flag: '', lh: 11,
    names: westNames, tgText: westAmpTG, altText: westAmpAlt,
    tg: [ampSantoTomasTG, ampCortesTG, ampCeibaTG, ampCastillaTG, ampLimonTG, ampCristobalTG, ampCartagenaTG],
    alt: [ampSantoTomasAlt, ampCortesAlt, ampCeibaAlt, ampCastillaAlt, ampLimonAlt, ampCristobalAlt, ampCartagenaAlt] },
  { left: 462, top: 961, width: 388, height: 463, spacing: 60, tickText: '60', yName: 'Annual phase [Deg]', prefix: 'Pha=', flag: '', lh: 11,
    names: westNames, tgText: westPhaTG, altText: westPhaAlt,
    tg: [phaSantoTomasTG, phaCortesTG, phaCeibaTG, phaCastillaTG, phaLimonTG, phaCristobalTG, phaCartagenaTG],
    alt: [phaSantoTomasAlt, phaCortesAlt, phaCeibaAlt, phaCastillaAlt, phaLimonAlt, phaCristobalAlt, phaCartagenaAlt] }
];

// split a point list at null markers into continuous pieces
function pieces(list) {
  const out = [];
  let cur = [];
  list.forEach(p => {
    if (p === null) { if (cur.length) out.push(cur); cur = []; }
    else cur.push(p);
  });
  if (cur.length) out.push(cur);
  return out;
}

const yearLabel = v => {
  const i = yearTicks.indexOf(Math.round(v));
  return i >= 0 ? yearTickText[i] : '';
};

const grids = [], xAxes = [], yAxes = [], series = [];

panels.forEach((p, k) => {
  const n = p.names.length;
  grids.push({ left: p.left, top: p.top, width: p.width, height: p.height, show: true,
               borderColor: '#000', borderWidth: 1.6, backgroundColor: 'transparent' });

  const xBase = { type: 'value', gridIndex: k, min: yearTicks[0], max: yearTicks[yearTicks.length - 1], interval: 10,
                  axisLine: { show: false, onZero: false }, splitLine: { show: false },
                  axisTick: { show: true, inside: true, length: 4, lineStyle: { color: '#000', width: 1.6 } } };
  xAxes.push(Object.assign({}, xBase, { position: 'bottom',
    axisLabel: { show: true, formatter: yearLabel, fontSize: 6.5, color: TEXT_AXIS, fontFamily: FONT, margin: 5 } }));
  xAxes.push(Object.assign({}, xBase, { position: 'top', axisLabel: { show: false } }));

  const topVal = n * p.spacing;
  yAxes.push({ type: 'value', gridIndex: k, min: -p.spacing, max: topVal, interval: p.spacing,
    name: p.yName, nameLocation: 'middle', nameGap: p.spacing === 4 ? 14 : 17,
    nameTextStyle: { fontSize: 6, color: TEXT_AXIS, fontFamily: FONT },
    axisLine: { show: false, onZero: false },
    axisTick: { show: true, inside: true, length: 5, lineStyle: { color: '#000', width: 1.6 } },
    axisLabel: { fontSize: 6, color: TEXT_AXIS, fontFamily: FONT, margin: 4,
      formatter: v => (Math.abs(v) < 1e-9 ? '0' : (v > 0 && v < topVal - 1e-9 ? p.tickText : '')) },
    splitLine: { show: true, lineStyle: { color: '#000', width: 1, type: [3, 2, 1, 2] } } });

  const xi = 2 * k;
  for (let i = 0; i < n; i++) {
    const off = (n - 1 - i) * p.spacing;
    pieces(p.tg[i]).forEach(seg => series.push({
      type: 'line', xAxisIndex: xi, yAxisIndex: k, symbol: 'none', silent: true, z: 4,
      lineStyle: { color: '#000', width: 1.9, join: 'miter' }, data: seg.map(d => [d[0], d[1] + off]) }));
    pieces(p.alt[i]).forEach(seg => series.push({
      type: 'line', xAxisIndex: xi, yAxisIndex: k, symbol: 'none', silent: true, z: 3,
      lineStyle: { color: ALT_BLUE, width: 1.4 }, data: seg.map(d => [d[0], d[1] + off]) }));
  }

  // station name + summary labels anchored on each baseline
  series.push({
    type: 'scatter', xAxisIndex: xi, yAxisIndex: k, symbolSize: 0, silent: true, z: 6,
    data: p.names.map((name, i) => ({
      value: [1950.45, (n - 1 - i) * p.spacing],
      label: { formatter: '{n|' + name + (i === 0 && p.flag ? '        ' + p.flag : '') + '}\n{a|' + p.prefix + p.tgText[i] + '}\n{b|' + p.prefix + p.altText[i] + '}' }
    })),
    label: { show: true, position: [0, 2], align: 'left', verticalAlign: 'bottom', fontFamily: FONT,
      rich: {
        n: { fontSize: 5.5, lineHeight: p.lh, color: TEXT_DARK, fontWeight: 'bold', fontFamily: FONT },
        a: { fontSize: 5.5, lineHeight: p.lh, color: TEXT_DARK, padding: [0, 0, 0, 2], fontFamily: FONT },
        b: { fontSize: 5.5, lineHeight: p.lh, color: ALT_BLUE, padding: [0, 0, 0, 2], fontFamily: FONT }
      } }
  });
});

const chart = echarts.init(document.getElementById('chart'), null, { renderer: 'canvas' });
chart.setOption({
  animation: false,
  backgroundColor: '#ffffff',
  grid: grids,
  xAxis: xAxes,
  yAxis: yAxes,
  series: series
});
</script>
</body>
</html>
